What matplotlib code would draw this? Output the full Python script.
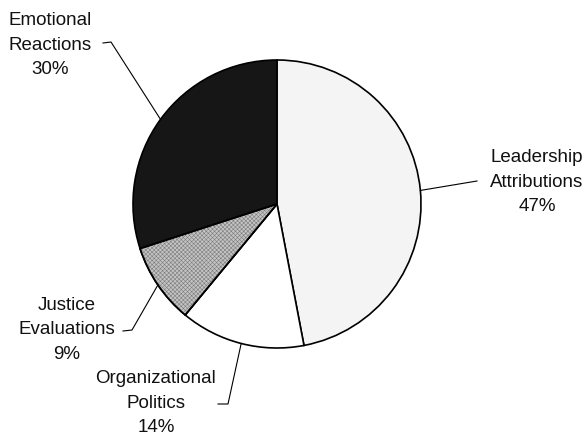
import numpy as np
import matplotlib
matplotlib.use("Agg")
import matplotlib.pyplot as plt
from matplotlib.patches import Wedge

labels = ["Leadership\nAttributions", "Organizational\nPolitics",
          "Justice\nEvaluations", "Emotional\nReactions"]
shares = [47, 14, 9, 30]
colors = ["#f4f4f4", "#ffffff", "#c4c4c4", "#161616"]

# label layout in pixel coords (x, y from top), leader elbow, line end
text_pos = [(537, 182), (156, 403), (67, 330), (50, 45)]
elbows = [(477, 181), (228, 404), (132, 330), (111, 42)]
ends = [(477, 181), (218, 404), (123, 331), (103, 43)]

plt.rcParams['font.family'] = ['Liberation Sans', 'DejaVu Sans']
plt.rcParams['hatch.linewidth'] = 0.4

W, H = 584, 440
fig = plt.figure(figsize=(W / 100, H / 100), dpi=100)
ax = fig.add_axes([0, 0, 1, 1])

cx, cy, r = 277, H - 204, 144
wedges, _ = ax.pie(shares, colors=colors, startangle=90, counterclock=False,
                   center=(cx, cy), radius=r, frame=True,
                   wedgeprops=dict(edgecolor='black', linewidth=1.2))
ax.set_xlim(0, W)
ax.set_ylim(0, H)
ax.set_aspect('equal')
ax.axis('off')

# texture on the justice slice
wj = wedges[2]
ax.add_patch(Wedge((cx, cy), r, wj.theta1, wj.theta2, facecolor='none',
                   edgecolor='#7c7c7c', hatch='xxxxxxxx', linewidth=0,
                   zorder=wj.get_zorder() + 0.1))
ax.add_patch(Wedge((cx, cy), r, wj.theta1, wj.theta2, facecolor='none',
                   edgecolor='black', linewidth=1.2, zorder=wj.get_zorder() + 0.2))

for w, lab, share, tp, el, en in zip(wedges, labels, shares, text_pos, elbows, ends):
    mid = np.deg2rad((w.theta1 + w.theta2) / 2)
    px, py = cx + r * np.cos(mid), cy + r * np.sin(mid)
    ax.plot([px, el[0], en[0]], [py, H - el[1], H - en[1]], color='black', lw=0.8)
    ax.text(tp[0], H - tp[1], f"{lab}\n{share}%", ha='center', va='center',
            fontsize=13.5, linespacing=1.55, color='#111111')

fig.savefig("out.png", dpi=100)
